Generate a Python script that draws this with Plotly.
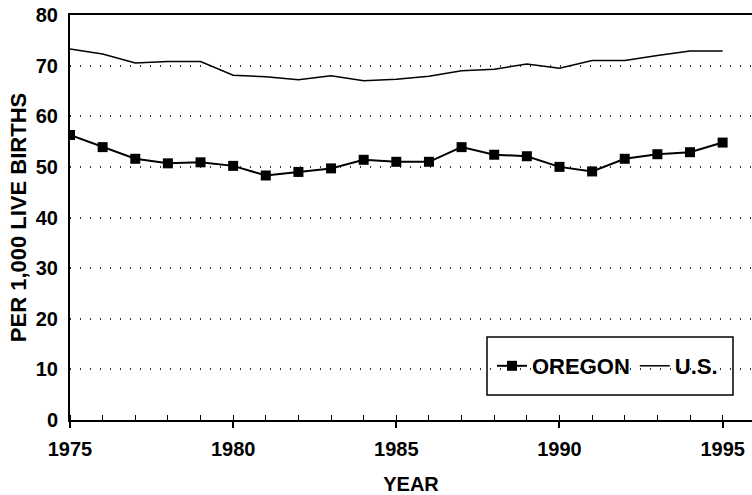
import plotly.graph_objects as go

years = list(range(1975, 1996))
oregon = [56.3, 53.9, 51.6, 50.7, 50.9, 50.2, 48.3, 49.0, 49.7, 51.4,
          51.0, 51.0, 53.9, 52.4, 52.1, 50.0, 49.1, 51.6, 52.5, 52.9, 54.8]
us = [73.3, 72.3, 70.5, 70.8, 70.8, 68.1, 67.8, 67.2, 68.0, 67.0,
      67.3, 67.9, 69.0, 69.3, 70.3, 69.5, 71.0, 71.0, 72.0, 72.9, 72.9]
y_ticks = [0, 10, 20, 30, 40, 50, 60, 70, 80]
x_ticks = [1975, 1980, 1985, 1990, 1995]

FONT = "Liberation Sans, Arial, sans-serif"

fig = go.Figure()
fig.add_trace(go.Scatter(x=years, y=oregon, name="OREGON", mode="lines+markers",
                         line=dict(color="black", width=2),
                         marker=dict(symbol="square", size=10, color="black")))
fig.add_trace(go.Scatter(x=years, y=us, name="U.S.", mode="lines",
                         line=dict(color="black", width=1.5)))

fig.update_layout(
    width=752, height=495,
    margin=dict(l=70, r=0, t=15, b=75),
    paper_bgcolor="white", plot_bgcolor="white",
    font=dict(family=FONT, size=16, color="black"),
    showlegend=True,
    legend=dict(orientation="h", x=(492 - 70) / 682, y=(420 - 366) / 405,
                xanchor="left", yanchor="middle",
                bgcolor="rgba(0,0,0,0)", borderwidth=0,
                font=dict(family=FONT, size=22, color="black", weight="bold"),
                itemwidth=30),
    shapes=[dict(type="rect", xref="paper", yref="paper",
                 x0=(487 - 70) / 682, x1=(733 - 70) / 682,
                 y0=(420 - 395) / 405, y1=(420 - 337) / 405,
                 line=dict(color="black", width=1.5), fillcolor="white", layer="below")],
    xaxis=dict(range=[1975, 1995.9], tickvals=x_ticks, showgrid=False, zeroline=False,
               automargin=False,
               showline=True, linecolor="black", linewidth=2, mirror=True,
               ticks="outside", ticklen=6, tickwidth=1.5, tickcolor="black",
               ticklabelstandoff=4,
               minor=dict(dtick=1, tick0=1975, ticks="inside", ticklen=5, tickcolor="black", tickwidth=1.2, showgrid=False),
               tickfont=dict(family=FONT, size=20, weight="bold"),
               title=dict(text="YEAR", font=dict(family=FONT, size=20, weight="bold"), standoff=23)),
    yaxis=dict(range=[0, 80], tickvals=y_ticks, showgrid=True, gridcolor="#333",
               griddash="1px,9px", gridwidth=1.5, zeroline=False,
               automargin=False,
               showline=True, linecolor="black", linewidth=2,
               ticks="", ticklabelstandoff=6,
               tickfont=dict(family=FONT, size=20, weight="bold"),
               title=dict(text="PER 1,000 LIVE BIRTHS", font=dict(family=FONT, size=22, weight="bold"), standoff=3)),
)

fig.write_html("out.html", config={"displayModeBar": False},
               post_script="document.body.style.margin='0';")
